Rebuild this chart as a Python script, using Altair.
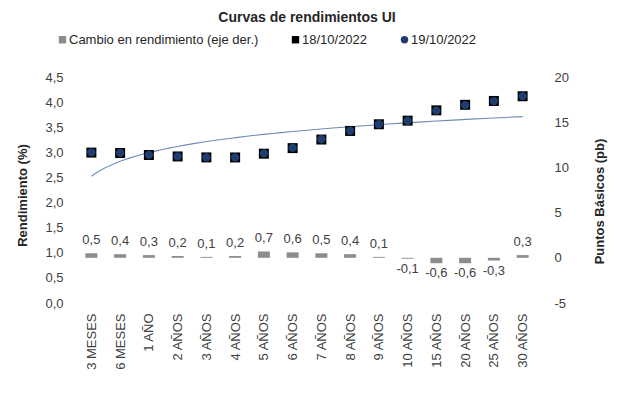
import json
import altair as alt
import pandas as pd

plazos = ["3 MESES", "6 MESES", "1 AÑO", "2 AÑOS", "3 AÑOS", "4 AÑOS", "5 AÑOS", "6 AÑOS",
          "7 AÑOS", "8 AÑOS", "9 AÑOS", "10 AÑOS", "15 AÑOS", "20 AÑOS", "25 AÑOS", "30 AÑOS"]
cambio = [0.5, 0.4, 0.3, 0.2, 0.1, 0.2, 0.7, 0.6, 0.5, 0.4, 0.1, -0.1, -0.6, -0.6, -0.3, 0.3]
r19 = [3.00, 2.99, 2.95, 2.92, 2.90, 2.90, 2.98, 3.09, 3.26, 3.43, 3.56, 3.63, 3.83, 3.94, 4.02, 4.12]
r18 = [2.995, 2.986, 2.947, 2.918, 2.899, 2.898, 2.973, 3.084, 3.255, 3.426, 3.559, 3.631, 3.836, 3.946, 4.023, 4.117]
series = ["Cambio en rendimiento (eje der.)", "18/10/2022", "19/10/2022"]
colors = ["#8c8c8c", "#000000", "#1f3d6e"]
shapes = ["square", "square", "circle"]

idx = list(range(1, len(plazos) + 1))
df = pd.DataFrame({"idx": idx, "plazo": plazos, "cambio": cambio, "r18": r18, "r19": r19})
pts = pd.concat([
    pd.DataFrame({"idx": idx, "valor": r18, "serie": series[1]}),
    pd.DataFrame({"idx": idx, "valor": r19, "serie": series[2]}),
])

FONT = "Liberation Sans"
W, H = 470, 226

label_expr = json.dumps(plazos) + "[datum.value - 1]"
xscale = alt.Scale(domain=[0.5, len(plazos) + 0.5], nice=False, zero=False)
xaxis = alt.Axis(values=idx, labelExpr=label_expr, labelAngle=270, labelPadding=10,
                 labelFontSize=13, title=None, labelColor="#404040", labelOverlap=False,
                 labelBound=False)
yl_scale = alt.Scale(domain=[0, 4.5], nice=False)
yl_axis = alt.Axis(values=[0, 0.5, 1, 1.5, 2, 2.5, 3, 3.5, 4, 4.5],
                   labelExpr="replace(format(datum.value, '.1f'), '.', ',')",
                   title="Rendimiento (%)", titleX=-50, titleY=118, titleAngle=270,
                   titleBaseline="middle", labelPadding=9)
yr_scale = alt.Scale(domain=[-5, 20], nice=False)
yr_axis = alt.Axis(values=[-5, 0, 5, 10, 15, 20], labelExpr="'' + datum.value",
                   orient="right", title="Puntos Básicos (pb)", titleX=57, titleY=124,
                   titleAngle=270, titleBaseline="middle", labelPadding=12)

legend = alt.Legend(orient="none", direction="horizontal", legendX=-16, legendY=-44,
                    title=None, columnPadding=30, labelOffset=0, symbolSize=55,
                    labelFontSize=13, labelFont=FONT, labelColor="#262626", padding=0,
                    labelLimit=0)
color_scale = alt.Scale(domain=series, range=colors)
shape_scale = alt.Scale(domain=series, range=shapes)

trend = alt.Chart(df).transform_regression("idx", "r19", method="log").mark_line(
    color="#6d8cb4", strokeWidth=1.1
).encode(x=alt.X("idx:Q", scale=xscale, axis=xaxis), y=alt.Y("r19:Q", scale=yl_scale, axis=yl_axis))

sq = alt.Chart(pts).transform_filter(alt.datum.serie == series[1]).mark_point(
    filled=True, opacity=1, size=100
).encode(
    x=alt.X("idx:Q", scale=xscale, axis=xaxis),
    y=alt.Y("valor:Q", scale=yl_scale, axis=yl_axis),
    color=alt.Color("serie:N", scale=color_scale, legend=legend),
    shape=alt.Shape("serie:N", scale=shape_scale, legend=legend),
)
ci = alt.Chart(pts).transform_filter(alt.datum.serie == series[2]).mark_point(
    filled=True, opacity=1, size=70
).encode(
    x=alt.X("idx:Q", scale=xscale, axis=xaxis),
    y=alt.Y("valor:Q", scale=yl_scale, axis=yl_axis),
    color=alt.Color("serie:N", scale=color_scale, legend=legend),
    shape=alt.Shape("serie:N", scale=shape_scale, legend=legend),
)
left = alt.layer(trend, sq, ci)

base_r = alt.Chart(df).transform_calculate(
    serie="'" + series[0] + "'",
    lab="replace(toString(datum.cambio), '.', ',')",
)
bars = base_r.mark_bar(size=12).encode(
    x=alt.X("idx:Q", scale=xscale, axis=xaxis),
    y=alt.Y("cambio:Q", scale=yr_scale, axis=yr_axis),
    color=alt.Color("serie:N", scale=color_scale, legend=legend),
)
tpos = base_r.transform_filter(alt.datum.cambio > 0).mark_text(
    baseline="bottom", dy=-6, fontSize=13, font=FONT, color="#404040"
).encode(x=alt.X("idx:Q", scale=xscale, axis=xaxis), y=alt.Y("cambio:Q", scale=yr_scale, axis=yr_axis), text="lab:N")
tneg = base_r.transform_filter(alt.datum.cambio < 0).mark_text(
    baseline="top", dy=4, fontSize=13, font=FONT, color="#404040"
).encode(x=alt.X("idx:Q", scale=xscale, axis=xaxis), y=alt.Y("cambio:Q", scale=yr_scale, axis=yr_axis), text="lab:N")
right = alt.layer(bars, tpos, tneg)

chart = alt.layer(left, right).resolve_scale(y="independent").properties(
    width=W, height=H,
    autosize=alt.AutoSizeParams(type="none"),
    padding={"left": 64, "top": 69, "right": 67, "bottom": 83},
    title=alt.Title("Curvas de rendimientos UI", anchor="middle", font=FONT, fontSize=14,
                    fontWeight="bold", color="#262626", offset=8),
).configure_view(stroke=None).configure_axis(
    grid=False, domain=False, ticks=False, labelFont=FONT, labelFontSize=13,
    labelColor="#404040", titleFont=FONT, titleFontSize=13, titleFontWeight="bold",
    titleColor="#262626", labelOverlap=False
)

chart.save("out.html", embed_options={"renderer": "svg", "actions": False})
